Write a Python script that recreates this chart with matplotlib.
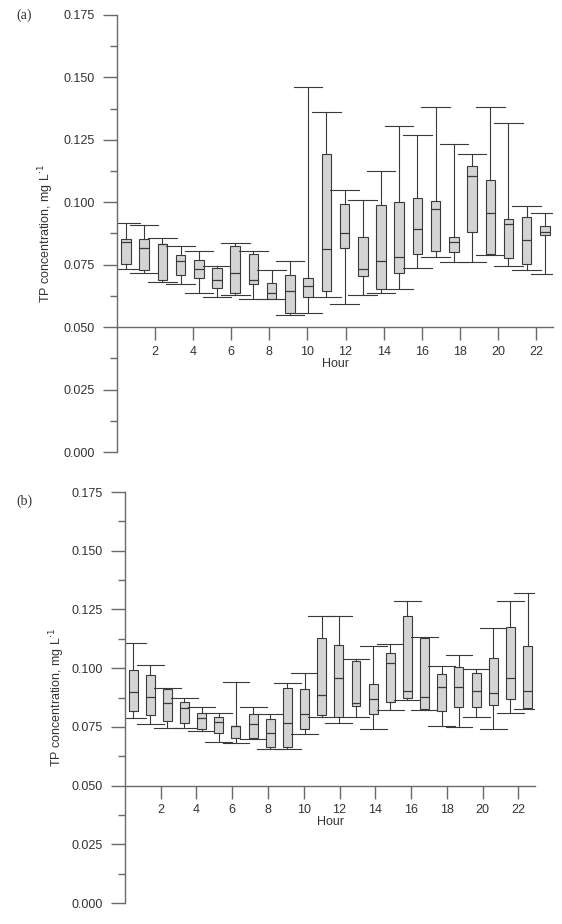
import numpy as np
import matplotlib
matplotlib.use("Agg")
import matplotlib.pyplot as plt
from matplotlib.ticker import MultipleLocator, FormatStrFormatter

plt.rcParams['font.family'] = ['Liberation Sans', 'DejaVu Sans']

# hourly TP box stats, panel (a)
a_whishi = [0.0918, 0.0909, 0.0858, 0.0826, 0.0805, 0.0745, 0.0836, 0.0806, 0.0729, 0.0764, 0.1460, 0.1363,
            0.1049, 0.1010, 0.1124, 0.1306, 0.1269, 0.1380, 0.1232, 0.1192, 0.1383, 0.1316, 0.0985, 0.0958]
a_q3 = [0.0852, 0.0854, 0.0834, 0.0790, 0.0768, 0.0736, 0.0825, 0.0792, 0.0678, 0.0708, 0.0696, 0.1193,
        0.0994, 0.0860, 0.0990, 0.1000, 0.1016, 0.1005, 0.0862, 0.1145, 0.1088, 0.0933, 0.0942, 0.0906]
a_med = [0.0841, 0.0816, 0.0832, 0.0765, 0.0733, 0.0689, 0.0717, 0.0688, 0.0638, 0.0646, 0.0664, 0.0812,
         0.0876, 0.0732, 0.0765, 0.0780, 0.0893, 0.0972, 0.0841, 0.1107, 0.0956, 0.0913, 0.0850, 0.0880]
a_q1 = [0.0754, 0.0729, 0.0688, 0.0709, 0.0696, 0.0658, 0.0637, 0.0672, 0.0614, 0.0555, 0.0622, 0.0646,
        0.0816, 0.0704, 0.0653, 0.0718, 0.0793, 0.0805, 0.0802, 0.0880, 0.0794, 0.0778, 0.0754, 0.0868]
a_whislo = [0.0733, 0.0716, 0.0681, 0.0672, 0.0638, 0.0622, 0.0628, 0.0614, 0.0611, 0.0549, 0.0555, 0.0622,
            0.0591, 0.0628, 0.0638, 0.0654, 0.0736, 0.0782, 0.0760, 0.0761, 0.0789, 0.0745, 0.0729, 0.0714]

# panel (b)
b_whishi = [0.1108, 0.1013, 0.0917, 0.0874, 0.0836, 0.0810, 0.0942, 0.0836, 0.0803, 0.0938, 0.0981, 0.1222,
            0.1222, 0.1040, 0.1093, 0.1105, 0.1287, 0.1133, 0.1010, 0.1056, 0.0996, 0.1171, 0.1287, 0.1320]
b_q3 = [0.0992, 0.0972, 0.0911, 0.0856, 0.0807, 0.0791, 0.0755, 0.0806, 0.0785, 0.0917, 0.0913, 0.1127,
        0.1099, 0.1030, 0.0932, 0.1066, 0.1223, 0.1127, 0.0975, 0.1006, 0.0978, 0.1042, 0.1174, 0.1096]
b_med = [0.0897, 0.0876, 0.0850, 0.0829, 0.0786, 0.0771, 0.0753, 0.0761, 0.0725, 0.0765, 0.0803, 0.0886,
         0.0957, 0.0850, 0.0867, 0.1024, 0.0904, 0.0876, 0.0921, 0.0920, 0.0904, 0.0895, 0.0957, 0.0903]
b_q1 = [0.0816, 0.0802, 0.0775, 0.0765, 0.0739, 0.0726, 0.0701, 0.0704, 0.0666, 0.0664, 0.0742, 0.0799,
        0.0791, 0.0837, 0.0806, 0.0858, 0.0871, 0.0825, 0.0816, 0.0833, 0.0833, 0.0843, 0.0867, 0.0829]
b_whislo = [0.0786, 0.0763, 0.0744, 0.0744, 0.0731, 0.0684, 0.0681, 0.0698, 0.0654, 0.0654, 0.0720, 0.0791,
            0.0768, 0.0793, 0.0739, 0.0822, 0.0863, 0.0820, 0.0755, 0.0749, 0.0793, 0.0741, 0.0810, 0.0826]

hour_ticks = [2, 4, 6, 8, 10, 12, 14, 16, 18, 20, 22]

edge = '#3a3a3a'
axcol = '#6a6a6a'
txtcol = '#333333'


def panel(rect, whishi, q3, med, q1, whislo, pos, tag, tagy, xmax):
    ax = fig.add_axes(rect)
    stats = [dict(med=m, q1=lo, q3=hi, whislo=wl, whishi=wh, fliers=[])
             for wh, hi, m, lo, wl in zip(whishi, q3, med, q1, whislo)]
    ax.bxp(stats, positions=pos, widths=0.5, capwidths=1.5, patch_artist=True,
           showfliers=False, manage_ticks=False,
           boxprops=dict(facecolor='#d4d4d4', edgecolor=edge, lw=0.8),
           medianprops=dict(color=edge, lw=0.9),
           whiskerprops=dict(color=edge, lw=0.8),
           capprops=dict(color=edge, lw=0.8))
    ax.set_xlim(0, xmax)
    ax.set_ylim(0, 0.175)
    for s in ['top', 'right']:
        ax.spines[s].set_visible(False)
    # x axis crosses at 0.05
    ax.spines['bottom'].set_position(('data', 0.05))
    for s in ['left', 'bottom']:
        ax.spines[s].set_color(axcol)
        ax.spines[s].set_linewidth(1.0)
    ax.yaxis.set_major_locator(MultipleLocator(0.025))
    ax.yaxis.set_minor_locator(MultipleLocator(0.0125))
    ax.yaxis.set_major_formatter(FormatStrFormatter('%.3f'))
    ax.set_xticks(hour_ticks)
    ax.tick_params(axis='y', which='major', length=10, width=1, color=axcol, labelsize=9,
                   labelcolor=txtcol, pad=6)
    ax.tick_params(axis='y', which='minor', length=5, width=1, color=axcol)
    ax.tick_params(axis='x', length=9.5, width=1, color=axcol, labelsize=9,
                   labelcolor=txtcol, pad=4)
    ax.set_xlabel('Hour', fontsize=9, color=txtcol, labelpad=0)
    ax.set_ylabel('TP concentration, mg L$^{\\cdot 1}$', fontsize=9, color=txtcol)
    ax.yaxis.set_label_coords(-0.141, 0.5)
    fig.text(0.03, tagy, tag, fontsize=10, color=txtcol, family='Liberation Serif', va='center')
    return ax


fig = plt.figure(figsize=(5.62, 9.24), dpi=100)

pos_a = np.linspace(0.47, 22.47, 24)
pos_b = np.linspace(0.45, 22.52, 24)

panel([0.2082, 0.5108, 0.776, 0.473], a_whishi, a_q3, a_med, a_q1, a_whislo, pos_a, '(a)', 0.984, 22.9)
panel([0.2224, 0.0227, 0.730, 0.4448], b_whishi, b_q3, b_med, b_q1, b_whislo, pos_b, '(b)', 0.457, 22.95)

fig.savefig('out.png', dpi=100)
